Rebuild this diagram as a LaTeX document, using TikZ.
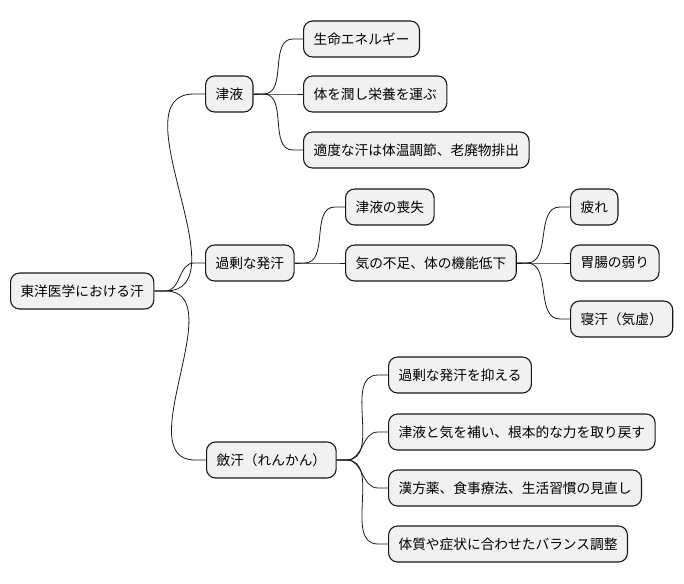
\documentclass[tikz,border=0pt]{standalone}
\usepackage{fontspec}
\setmainfont{Noto Sans CJK JP}
\usepackage{xcolor}
\usetikzlibrary{positioning}

\definecolor{boxfill}{HTML}{F1F1F1}
\definecolor{boxline}{HTML}{181818}

\tikzset{
  topic/.style={draw=boxline, line width=1.1pt, fill=boxfill, rounded corners=9pt,
    minimum height=36pt, inner xsep=10pt, anchor=west,
    font=\fontsize{13.7}{16}\selectfont},
  branch/.style={draw=boxline, line width=0.8pt}
}

\begin{document}
\begin{tikzpicture}[x=1pt,y=-1pt]
\useasboundingbox (0,0) rectangle (684,583);

%% Nodes %%

\node[topic] (root) at (10,291) {東洋医学における汗};

\node[topic] (jin) at (205,94) {津液};
\node[topic] (kajo) at (205,263) {過剰な発汗};
\node[topic] (renkan) at (206,460) {斂汗（れんかん）};

\node[topic] (jinA) at (303,39) {生命エネルギー};
\node[topic] (jinB) at (303,94) {体を潤し栄養を運ぶ};
\node[topic] (jinC) at (303,150) {適度な汗は体温調節、老廃物排出};

\node[topic] (kajoA) at (345,207) {津液の喪失};
\node[topic] (kajoB) at (345,263) {気の不足、体の機能低下};

\node[topic] (kiA) at (570,207) {疲れ};
\node[topic] (kiB) at (570,263) {胃腸の弱り};
\node[topic] (kiC) at (570,319) {寝汗（気虚）};

\node[topic] (renA) at (388,375) {過剰な発汗を抑える};
\node[topic] (renB) at (388,432) {津液と気を補い、根本的な力を取り戻す};
\node[topic] (renC) at (388,488) {漢方薬、食事療法、生活習慣の見直し};
\node[topic] (renD) at (388,544) {体質や症状に合わせたバランス調整};

%% Branches %%

\begin{scope}[on background layer/.try]
\draw[branch] (root.east) -- ++(11,0) to[out=0,in=180] ([xshift=-11]jin.west) -- (jin.west);
\draw[branch] (root.east) -- ++(11,0) to[out=0,in=180] ([xshift=-11]kajo.west) -- (kajo.west);
\draw[branch] (root.east) -- ++(11,0) to[out=0,in=180] ([xshift=-11]renkan.west) -- (renkan.west);

\draw[branch] (jin.east) -- ++(10,0) to[out=0,in=180] ([xshift=-10]jinA.west) -- (jinA.west);
\draw[branch] (jin.east) -- ++(10,0) to[out=0,in=180] ([xshift=-10]jinB.west) -- (jinB.west);
\draw[branch] (jin.east) -- ++(10,0) to[out=0,in=180] ([xshift=-10]jinC.west) -- (jinC.west);

\draw[branch] (kajo.east) -- ++(10,0) to[out=0,in=180] ([xshift=-10]kajoA.west) -- (kajoA.west);
\draw[branch] (kajo.east) -- ++(10,0) to[out=0,in=180] ([xshift=-10]kajoB.west) -- (kajoB.west);

\draw[branch] (kajoB.east) -- ++(10,0) to[out=0,in=180] ([xshift=-10]kiA.west) -- (kiA.west);
\draw[branch] (kajoB.east) -- ++(10,0) to[out=0,in=180] ([xshift=-10]kiB.west) -- (kiB.west);
\draw[branch] (kajoB.east) -- ++(10,0) to[out=0,in=180] ([xshift=-10]kiC.west) -- (kiC.west);

\draw[branch] (renkan.east) -- ++(10,0) to[out=0,in=180] ([xshift=-10]renA.west) -- (renA.west);
\draw[branch] (renkan.east) -- ++(10,0) to[out=0,in=180] ([xshift=-10]renB.west) -- (renB.west);
\draw[branch] (renkan.east) -- ++(10,0) to[out=0,in=180] ([xshift=-10]renC.west) -- (renC.west);
\draw[branch] (renkan.east) -- ++(10,0) to[out=0,in=180] ([xshift=-10]renD.west) -- (renD.west);
\end{scope}

\end{tikzpicture}
\end{document}
